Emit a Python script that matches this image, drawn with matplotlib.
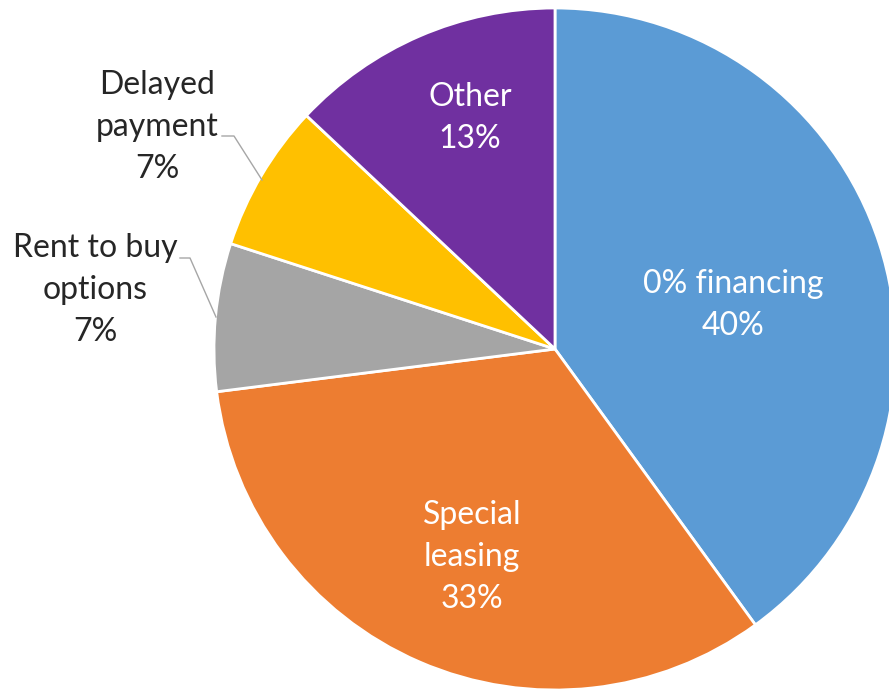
import numpy as np
import matplotlib
matplotlib.use("Agg")
import matplotlib.pyplot as plt

# データ
labels = ["0% financing", "Special\nleasing", "Rent to buy\noptions", "Delayed\npayment", "Other"]
shares = [40, 33, 7, 7, 13]
colors = ["#5B9BD5", "#ED7D31", "#A5A5A5", "#FFC000", "#7030A0"]

W, H = 889, 692
CX, CY, R = 555, 349, 341  # 円の中心と半径 (ピクセル)

plt.rcParams["font.family"] = ["Lato", "DejaVu Sans"]

fig = plt.figure(figsize=(W / 100, H / 100), dpi=100)
ax = fig.add_axes([0, 0, 1, 1])

wedges, _ = ax.pie(
    shares,
    colors=colors,
    startangle=90,
    counterclock=False,
    radius=1,
    wedgeprops=dict(edgecolor="white", linewidth=2),
)

# pie() が範囲を上書きするので後から設定
ax.set_aspect("auto")
ax.set_xlim(-CX / R, (W - CX) / R)
ax.set_ylim(-(H - CY) / R, CY / R)
ax.axis("off")


def px(x, y):
    # ピクセル座標 -> データ座標
    return (x - CX) / R, (CY - y) / R


fs = 23
# 内側のラベル
inside = {0: (733, 305), 1: (472, 557), 4: (470, 118)}
for i, (x, y) in inside.items():
    ax.text(*px(x, y), f"{labels[i]}\n{shares[i]}%", color="white",
            fontsize=fs, ha="center", va="center", linespacing=1.5)

# 外側のラベルと引き出し線
outside = {3: ((157, 127), [(222, 136), (234, 136), (262, 180)]),
           2: ((95, 290), [(180, 258), (190, 258), (216, 317)])}
for i, ((x, y), line) in outside.items():
    ax.text(*px(x, y), f"{labels[i]}\n{shares[i]}%", color="#262626",
            fontsize=fs, ha="center", va="center", linespacing=1.5)
    pts = np.array([px(a, b) for a, b in line])
    ax.plot(pts[:, 0], pts[:, 1], color="#A6A6A6", linewidth=1)

fig.savefig("out.png", dpi=100, facecolor="white")
